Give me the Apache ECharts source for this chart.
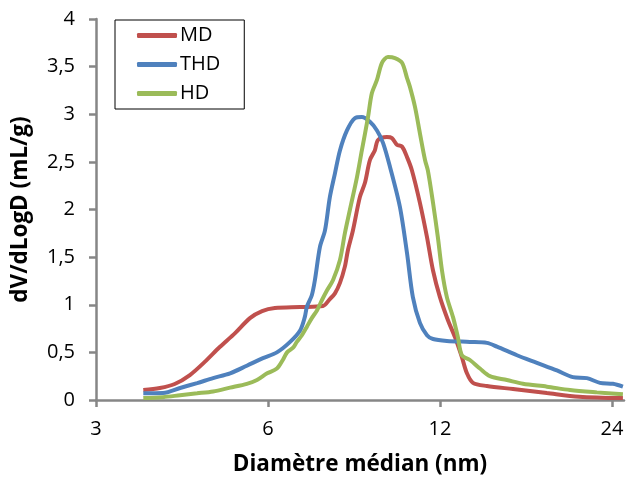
<!DOCTYPE html>
<html><head><meta charset="utf-8">
<script src="https://cdn.jsdelivr.net/npm/echarts@6/dist/echarts.min.js"></script>
<style>html,body{margin:0;padding:0;background:#fff}#c{width:628px;height:479px}</style>
</head><body><div id="c"></div>
<script>
// Diameter (nm) and dV/dLogD (mL/g)
const mdX = [3.63,3.88,4.12,4.38,4.65,4.94,5.25,5.58,5.86,6.17,6.83,7.49,7.70,7.86,8.02,8.18,8.28,8.45,8.69,8.87,9.05,9.23,9.35,9.69,9.89,10.09,10.30,10.51,10.72,11.07,11.39,11.67,12.00,12.39,12.75,13.11,13.38,13.71,14.50,16.11,18.47,21.03,25.09];
const mdY = [0.105,0.126,0.168,0.262,0.40,0.556,0.70,0.86,0.934,0.966,0.976,0.987,1.06,1.12,1.23,1.40,1.57,1.78,2.13,2.28,2.52,2.62,2.73,2.76,2.75,2.68,2.66,2.55,2.41,2.07,1.71,1.36,1.08,0.84,0.66,0.45,0.28,0.18,0.147,0.115,0.073,0.035,0.02];
const thdX = [3.63,3.93,4.21,4.51,4.81,5.15,5.51,5.88,6.22,6.56,6.83,6.96,7.02,7.16,7.25,7.40,7.55,7.70,7.86,8.02,8.25,8.52,8.76,9.05,9.31,9.54,9.81,10.21,10.51,10.76,11.07,11.39,11.67,12.34,13.54,14.50,15.10,16.37,17.74,19.23,20.51,21.70,22.87,24.10,25.09];
const thdY = [0.07,0.073,0.126,0.178,0.23,0.28,0.36,0.44,0.50,0.61,0.73,0.87,0.98,1.10,1.26,1.61,1.78,2.13,2.38,2.62,2.83,2.96,2.97,2.92,2.83,2.70,2.45,2.03,1.54,1.08,0.81,0.68,0.64,0.62,0.61,0.60,0.56,0.47,0.39,0.31,0.24,0.23,0.18,0.17,0.14];
const hdX = [3.63,3.93,4.21,4.51,4.81,5.15,5.51,5.74,5.98,6.22,6.37,6.48,6.64,6.74,6.88,7.02,7.16,7.31,7.46,7.61,7.80,8.02,8.18,8.35,8.59,8.76,8.98,9.12,9.31,9.50,9.73,10.01,10.30,10.51,10.63,10.85,11.07,11.30,11.43,11.67,11.90,12.10,12.34,12.65,12.90,13.11,13.54,14.10,14.68,15.72,16.77,18.47,20.27,22.59,25.09];
const hdY = [0.02,0.03,0.05,0.07,0.09,0.13,0.17,0.21,0.28,0.33,0.42,0.50,0.55,0.61,0.68,0.77,0.86,0.94,1.05,1.15,1.26,1.47,1.75,2.0,2.34,2.62,2.97,3.22,3.36,3.54,3.60,3.59,3.54,3.38,3.29,3.08,2.80,2.52,2.41,2.07,1.71,1.36,1.08,0.87,0.66,0.47,0.42,0.33,0.25,0.21,0.17,0.14,0.105,0.08,0.06];
const xTicks = [3,6,12,24];
const xMaxNm = 25.2;
const seriesNames = ['MD','THD','HD'];
const colors = ['#C0504D','#4F81BD','#9BBB59'];

const toPos = d => Math.log2(d / 3);
const pairs = (xs, ys) => xs.map((x, i) => [toPos(x), ys[i]]);
const font = 'Open Sans';
const chart = echarts.init(document.getElementById('c'));
chart.setOption({
  animation: false,
  color: colors,
  grid: {left: 96, right: 4, top: 19, bottom: 79, containLabel: false, outerBoundsMode: 'none'},
  legend: {
    orient: 'vertical', left: 115, top: 20,
    data: seriesNames,
    borderColor: '#000', borderWidth: 1, borderRadius: 0,
    padding: [5, 24, 5, 22],
    itemWidth: 40, itemHeight: 5, itemGap: 8,
    icon: 'roundRect',
    textStyle: {fontFamily: font, fontSize: 20, color: '#000', lineHeight: 21, padding: [0,0,0,-2]}
  },
  xAxis: {
    type: 'value', min: 0, max: toPos(xMaxNm),
    name: 'Diamètre médian (nm)', nameLocation: 'middle', nameGap: 53,
    nameTextStyle: {fontFamily: font, fontSize: 22.5, fontWeight: 'bold', color: '#000'},
    axisLine: {lineStyle: {color: '#868686', width: 2.5}},
    axisTick: {show: true, length: 7, lineStyle: {color: '#868686', width: 2.5}, customValues: xTicks.map(toPos)},
    axisLabel: {fontFamily: font, fontSize: 20, color: '#000', margin: 19, customValues: xTicks.map(toPos),
      formatter: v => String(Math.round(3 * Math.pow(2, v)))},
    splitLine: {show: false}
  },
  yAxis: {
    type: 'value', min: 0, max: 4, interval: 0.5,
    name: 'dV/dLogD (mL/g)', nameLocation: 'middle', nameGap: 64,
    nameTextStyle: {fontFamily: font, fontSize: 22.5, fontWeight: 'bold', color: '#000'},
    axisLine: {show: true, lineStyle: {color: '#868686', width: 2.5}},
    axisTick: {show: true, length: 7, lineStyle: {color: '#868686', width: 2.5}},
    axisLabel: {fontFamily: font, fontSize: 20, color: '#000', margin: 21,
      formatter: v => String(v).replace('.', ',')},
    splitLine: {show: false}
  },
  series: [
    {name: 'MD', type: 'line', data: pairs(mdX, mdY)},
    {name: 'THD', type: 'line', data: pairs(thdX, thdY)},
    {name: 'HD', type: 'line', data: pairs(hdX, hdY)}
  ].map(s => Object.assign(s, {smooth: 0.3, showSymbol: false, symbol: 'none', clip: true,
    lineStyle: {width: 4}}))
});
</script></body></html>
